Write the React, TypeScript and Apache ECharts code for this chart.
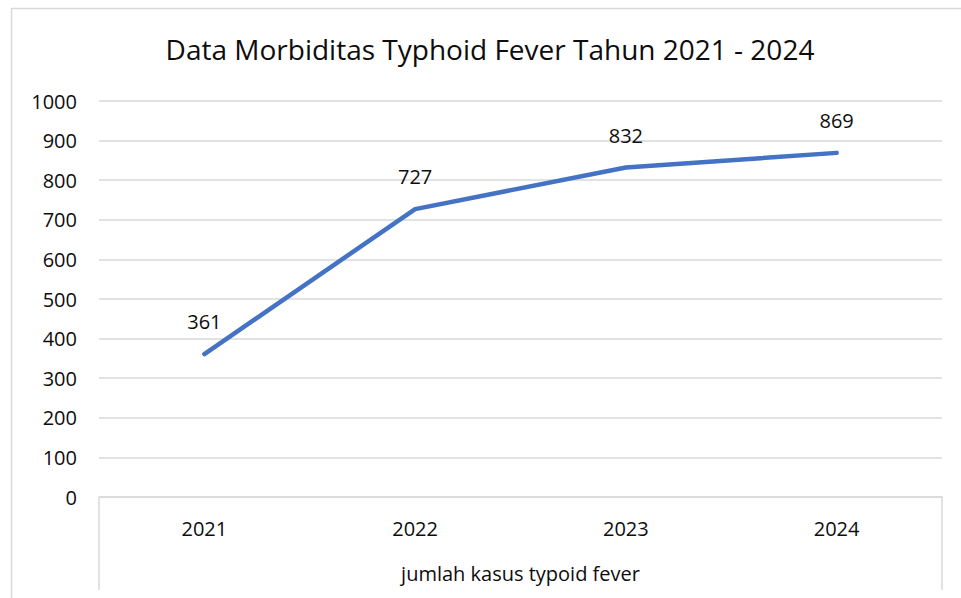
import React, { useEffect, useRef } from "react";
import * as echarts from "echarts";

const titleText = "Data Morbiditas Typhoid Fever Tahun 2021 - 2024";
const categories = ["2021", "2022", "2023", "2024"];
const groupLabel = ["jumlah kasus typoid fever"];
const values = [361, 727, 832, 869];

const FONT = "'Open Sans', sans-serif";
const GRAY = "#d9d9d9";
const TXT = "#0d0d0d";
const FS = 20;
const LINE = "#4472c4";

export default function App() {
  const ref = useRef<HTMLDivElement>(null);
  useEffect(() => {
    if (!ref.current) return;
    const chart = echarts.init(ref.current, undefined, { renderer: "svg" });
    chart.setOption({
      animation: false,
      backgroundColor: "#ffffff",
      title: {
        text: titleText,
        left: 485,
        top: 30,
        textAlign: "center",
        textStyle: { fontFamily: FONT, fontSize: 28, fontWeight: "normal", color: TXT },
      },
      graphic: [
        {
          type: "rect",
          shape: { x: 11.5, y: 8.5, width: 970, height: 620 },
          style: { fill: "none", stroke: GRAY, lineWidth: 1.5 },
          silent: true,
        },
      ],
      grid: { left: 99, right: 19, top: 101, bottom: 101, containLabel: false },
      xAxis: [
        {
          type: "category",
          data: categories,
          boundaryGap: true,
          axisLine: { show: true, lineStyle: { color: GRAY, width: 1.5 } },
          axisTick: { show: false },
          axisLabel: { margin: 21, fontFamily: FONT, fontSize: FS, color: TXT },
        },
        {
          type: "category",
          data: groupLabel,
          position: "bottom",
          boundaryGap: true,
          axisLine: { show: false },
          axisTick: { show: true, length: 93, lineStyle: { color: GRAY, width: 1.5 } },
          axisLabel: { margin: 66, fontFamily: FONT, fontSize: FS, color: TXT },
        },
      ],
      yAxis: {
        type: "value",
        min: 0,
        max: 1000,
        interval: 100,
        axisLine: { show: false },
        axisTick: { show: false },
        splitLine: { lineStyle: { color: GRAY, width: 1.5 } },
        axisLabel: {
          margin: 22,
          fontFamily: FONT,
          fontSize: FS,
          color: TXT,
          formatter: (v: number) => String(v),
        },
      },
      series: [
        {
          type: "line",
          xAxisIndex: 0,
          data: values,
          symbol: "circle",
          symbolSize: 3,
          showSymbol: true,
          lineStyle: { color: LINE, width: 4.5, cap: "round", join: "round" },
          itemStyle: { color: LINE, borderWidth: 0 },
          label: {
            show: true,
            position: "top",
            distance: 21,
            fontFamily: FONT,
            fontSize: FS,
            color: TXT,
          },
        },
      ],
    });
    return () => chart.dispose();
  }, []);
  return (
    <div
      ref={ref}
      style={{ position: "absolute", left: 0, top: 0, width: 961, height: 598 }}
    />
  );
}
